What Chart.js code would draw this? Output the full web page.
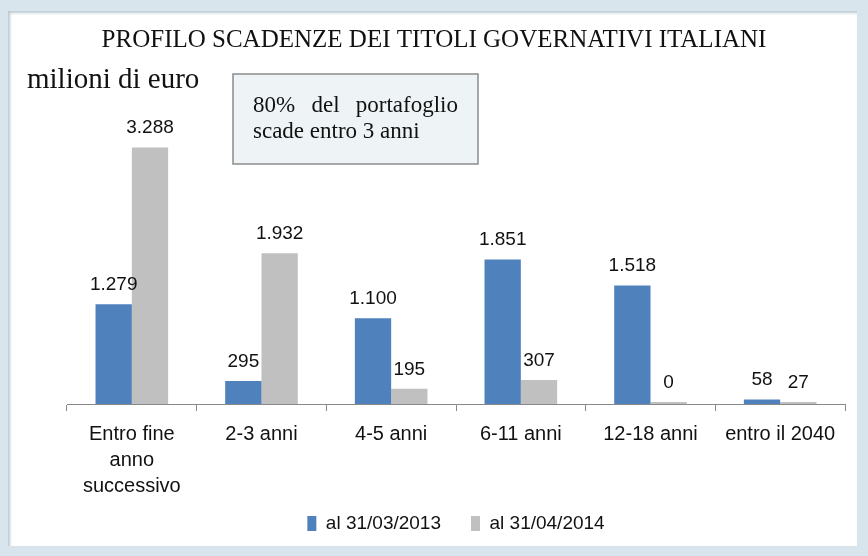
<!DOCTYPE html>
<html>
<head>
<meta charset="utf-8">
<script src="https://cdn.jsdelivr.net/npm/chart.js@4.4.1/dist/chart.umd.min.js"></script>
<style>
  html, body { margin: 0; padding: 0; }
  body { width: 868px; height: 556px; background: #d9e5ec; position: relative; overflow: hidden; }
  #frame { position: absolute; left: 8px; top: 11px; width: 849px; height: 535px; background: #fff;
           box-shadow: inset 2px 2px 3px #b9c9d3; }
  #wrap { position: absolute; left: 10px; top: 13px; width: 845px; height: 555px; }
</style>
</head>
<body>
<div id="frame"></div>
<div id="wrap"><canvas id="grafico"></canvas></div>
<script>
const categorie = [['Entro fine', 'anno', 'successivo'], '2-3 anni', '4-5 anni', '6-11 anni', '12-18 anni', 'entro il 2040'];
const valori2013 = [1279, 295, 1100, 1851, 1518, 58];
const valori2014 = [3288, 1932, 195, 307, 0, 27];
const nomiSerie = ['al 31/03/2013', 'al 31/04/2014'];

const sans = "'Liberation Sans', Arial, sans-serif";
const serif = "'Liberation Serif', 'DejaVu Serif', serif";

function formatta(v) {
  return String(v).replace(/\B(?=(\d{3})+(?!\d))/g, '.');
}

const decorazioni = {
  id: 'decorazioni',
  afterLayout(chart) {
    // legenda un po' più vicina alle etichette dell'asse
    chart.legend.top -= 25;
    chart.legend.bottom -= 25;
  },
  beforeDraw(chart) {
    const ctx = chart.ctx;
    ctx.save();
    ctx.fillStyle = '#111';
    ctx.font = '25px ' + serif;
    ctx.textAlign = 'center';
    ctx.textBaseline = 'middle';
    ctx.fillText('PROFILO SCADENZE DEI TITOLI GOVERNATIVI ITALIANI', 424, 27);
    ctx.textAlign = 'left';
    ctx.font = '29px ' + serif;
    ctx.fillText('milioni di euro', 17, 67);

    // riquadro nota
    ctx.fillStyle = '#eef3f6';
    ctx.fillRect(223, 61, 245, 90);
    ctx.strokeStyle = '#8c8c8c';
    ctx.lineWidth = 1.5;
    ctx.strokeRect(223, 61, 245, 90);
    ctx.fillStyle = '#111';
    ctx.font = '23px ' + serif;
    const parole = ['80%', 'del', 'portafoglio'];
    const sx = 243, dx = 448;
    const larg = parole.map(p => ctx.measureText(p).width);
    const gap = (dx - sx - larg.reduce((a, b) => a + b, 0)) / (parole.length - 1);
    let x = sx;
    parole.forEach((p, i) => { ctx.fillText(p, x, 93); x += larg[i] + gap; });
    ctx.fillText('scade entro 3 anni', sx, 119);
    ctx.restore();
  },
  afterDatasetsDraw(chart) {
    const ctx = chart.ctx;
    ctx.save();
    ctx.font = '19px ' + sans;
    ctx.fillStyle = '#111';
    ctx.textAlign = 'center';
    ctx.textBaseline = 'bottom';
    chart.data.datasets.forEach((ds, i) => {
      chart.getDatasetMeta(i).data.forEach((bar, j) => {
        ctx.fillText(formatta(ds.data[j]), bar.x, bar.y - 10);
      });
    });
    ctx.restore();
  }
};

new Chart(document.getElementById('grafico'), {
  type: 'bar',
  data: {
    labels: categorie,
    datasets: [
      { label: nomiSerie[0], data: valori2013, backgroundColor: '#4f81bd' },
      { label: nomiSerie[1], data: valori2014, backgroundColor: '#c0c0c0' }
    ]
  },
  options: {
    responsive: true,
    maintainAspectRatio: false,
    animation: false,
    layout: { padding: { top: 79, left: 57, right: 10, bottom: 0 } },
    datasets: { bar: { categoryPercentage: 0.56, barPercentage: 1, minBarLength: 2 } },
    plugins: {
      legend: {
        position: 'bottom',
        labels: { boxWidth: 9, boxHeight: 15, padding: 30, color: '#111', font: { family: sans, size: 19 } }
      },
      title: { display: false },
      tooltip: { enabled: false }
    },
    scales: {
      x: {
        grid: { display: true, drawOnChartArea: false, offset: true, tickLength: 7, color: '#888' },
        border: { color: '#888' },
        ticks: { color: '#111', padding: 10, maxRotation: 0, font: { family: sans, size: 20, lineHeight: 1.3 } }
      },
      y: {
        display: false,
        min: 0,
        max: 4000
      }
    }
  },
  plugins: [decorazioni]
});
</script>
</body>
</html>
